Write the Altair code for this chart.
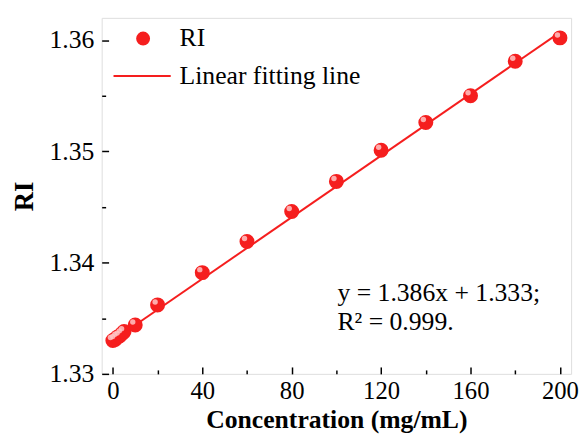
import altair as alt
import pandas as pd

# data
conc = [0, 1, 2, 3, 4, 5, 10, 20, 40, 60, 80, 100, 120, 140, 160, 180, 200]
ri = [1.3330, 1.3331, 1.3333, 1.3334, 1.3336, 1.3338, 1.3344, 1.3362, 1.3391,
      1.3419, 1.3446, 1.3473, 1.3501, 1.3526, 1.3550, 1.3581, 1.3602]
fit_x = [0, 200]
fit_y = [1.3330, 1.3607]
ann_text = ["y = 1.386x + 1.333;", "R\u00b2 = 0.999."]
ann_x = [100.5, 100.5]
ann_y = [1.33656, 1.33390]
x_major = [0, 40, 80, 120, 160, 200]
x_all = [0, 20, 40, 60, 80, 100, 120, 140, 160, 180, 200]
y_major = [1.33, 1.34, 1.35, 1.36]
y_all = [1.33, 1.335, 1.34, 1.345, 1.35, 1.355, 1.36]

X_DOM = [-5, 205]
Y_DOM = [1.33, 1.362]
W, H = 476, 361
FONT = "Liberation Serif"
RED = "#f51e1e"

pts = pd.DataFrame({"x": conc, "y": ri, "s": ["RI"] * len(conc)})
fit = pd.DataFrame({"x": fit_x, "y": fit_y, "s": ["Linear fitting line"] * len(fit_x)})
ann = pd.DataFrame({"x": ann_x, "y": ann_y, "t": ann_text})


def X(axis=None):
    return alt.X("x:Q", scale=alt.Scale(domain=X_DOM, nice=False, zero=False), axis=axis)


def Y(axis=None):
    return alt.Y("y:Q", scale=alt.Scale(domain=Y_DOM, nice=False, zero=False), axis=axis)


x_main = alt.Axis(values=x_major, ticks=False, domain=False, grid=False, format="d",
                  labelFont=FONT, labelFontSize=25, labelColor="black", labelPadding=5,
                  title="Concentration (mg/mL)", titleFont=FONT, titleFontSize=26,
                  titleFontWeight="bold", titleColor="black", titlePadding=3)
y_main = alt.Axis(values=y_major, ticks=False, domain=False, grid=False, format=".2f",
                  labelFont=FONT, labelFontSize=26, labelColor="black", labelPadding=8,
                  title="RI", titleFont=FONT, titleFontSize=27, titleFontWeight="bold",
                  titleColor="black", titlePadding=11)
x_ticks = alt.Axis(orient="top", offset=-H, values=x_all, labels=False, domain=False,
                   grid=False, title="", tickColor="black", tickWidth=1.5,
                   tickSize={"condition": {"test": "datum.value % 40 === 0", "value": 7},
                             "value": 4})
y_ticks = alt.Axis(orient="right", offset=-W, values=y_all, labels=False, domain=False,
                   grid=False, title="", tickColor="black", tickWidth=1.5,
                   tickSize={"condition": {"test": "abs(datum.value*100 - round(datum.value*100)) < 0.001",
                                           "value": 7},
                             "value": 4})

points = alt.Chart(pts).mark_point(filled=True, size=230, opacity=1).encode(
    x=X(x_main), y=Y(y_main),
    color=alt.Color("s:N", scale=alt.Scale(domain=["RI"], range=[RED]),
                    legend=alt.Legend(title=None, orient="none", legendX=29, legendY=8,
                                      labelFont=FONT, labelFontSize=26, labelColor="black",
                                      labelOffset=24, symbolSize=200, symbolType="circle",
                                      padding=0, symbolStrokeWidth=0, labelLimit=400)),
)
highlight = alt.Chart(pts).mark_point(filled=True, size=30, opacity=0.85, color="#ffc4c4",
                                      xOffset=-2.5, yOffset=-3).encode(x=X(), y=Y())
line = alt.Chart(fit).mark_line(strokeWidth=2).encode(
    x=X(x_ticks), y=Y(y_ticks),
    stroke=alt.Stroke("s:N", scale=alt.Scale(domain=["Linear fitting line"], range=[RED]),
                      legend=alt.Legend(title=None, orient="none", legendX=11, legendY=29,
                                        labelFont=FONT, labelFontSize=26, labelColor="black",
                                        labelOffset=8, symbolType="stroke", symbolSize=3364,
                                        symbolStrokeWidth=2, padding=0, labelLimit=400)),
)
text = alt.Chart(ann).mark_text(align="left", baseline="alphabetic", font=FONT,
                                fontSize=26, color="black").encode(x=X(), y=Y(), text="t:N")

chart = alt.layer(line, points, highlight, text).resolve_scale(
    x="independent", y="independent"
).properties(
    width=W, height=H,
    autosize=alt.AutoSizeParams(type="none"),
    padding={"left": 95, "top": 7, "right": 8, "bottom": 60},
).configure_view(stroke="black", strokeWidth=1.6).configure(background="white")

chart.save("out.html", embed_options={"renderer": "svg", "actions": False})
